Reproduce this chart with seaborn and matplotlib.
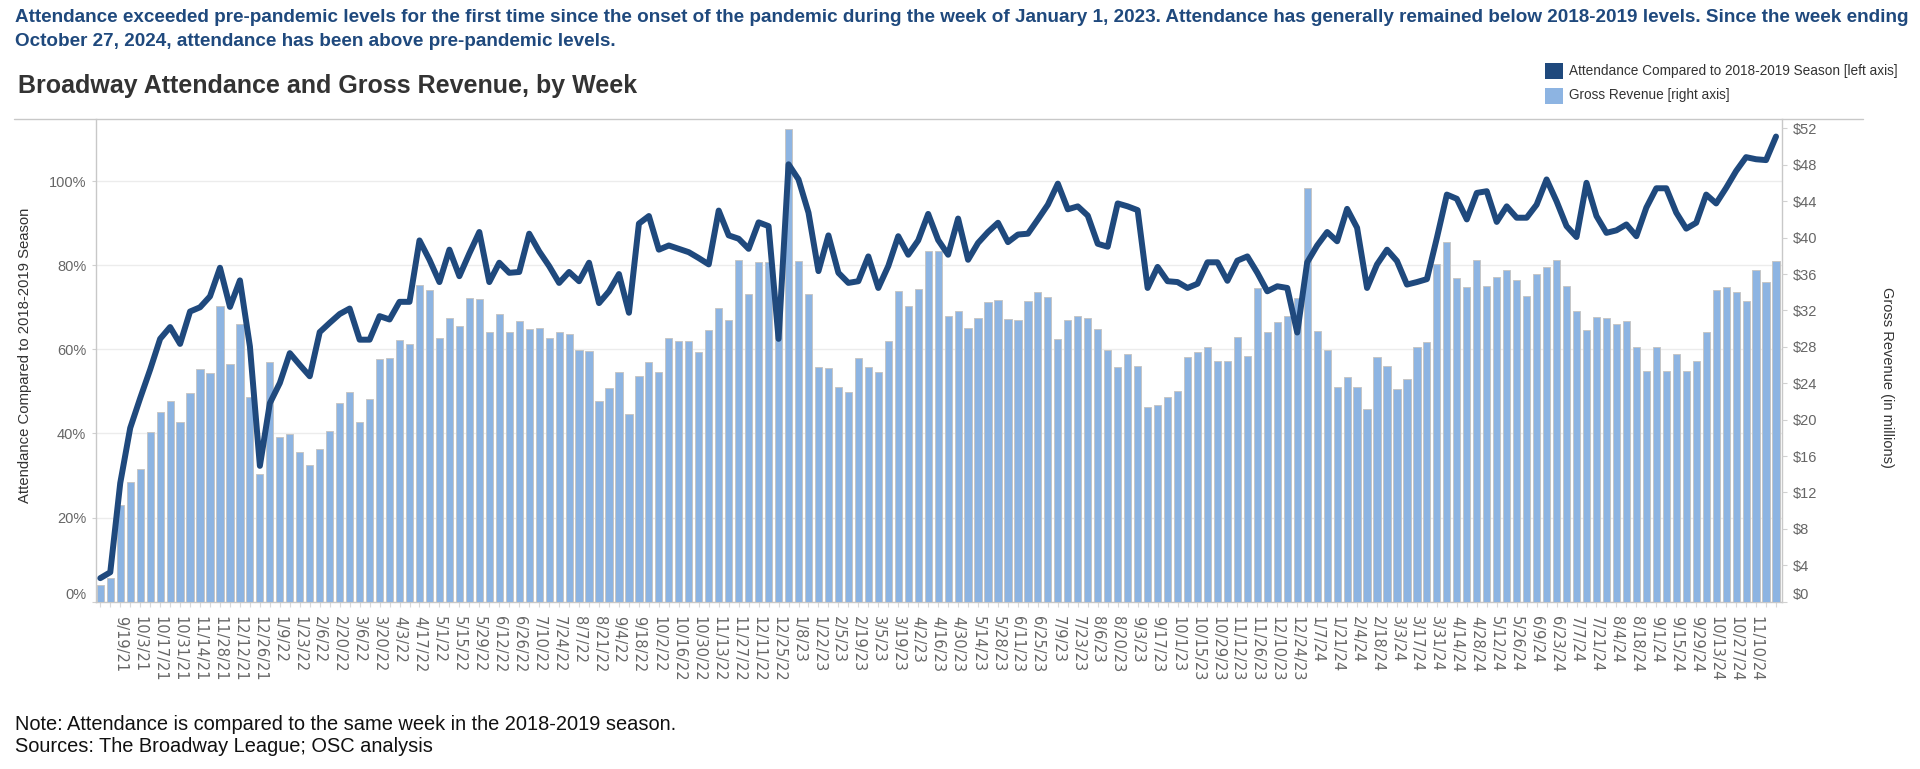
import numpy as np
import pandas as pd
import matplotlib
matplotlib.use("Agg")
import matplotlib.pyplot as plt
import seaborn as sns
from matplotlib.lines import Line2D
from matplotlib.patches import Rectangle

# weekly Broadway data, week ending 9/5/21 through 11/24/24
first_week = "2021-09-05"

# gross revenue, $ millions
revenue = [
    1.8, 2.6, 10.6, 13.1, 14.6, 18.6, 20.8, 22.1, 19.7, 22.9, 25.6, 25.1, 32.5, 26.1, 30.5,
    22.5, 14.0, 26.3, 18.1, 18.4, 16.4, 15.0, 16.8, 18.8, 21.8, 23.0, 19.7, 22.3, 26.7, 26.8,
    28.7, 28.3, 34.8, 34.2, 29.0, 31.2, 30.3, 33.4, 33.3, 29.6, 31.6, 29.6, 30.8,
    30.0, 30.1, 29.0, 29.6, 29.4, 27.6, 27.5, 22.1, 23.5, 25.2, 20.6, 24.8, 26.3, 25.2, 29.0,
    28.6, 28.6, 27.4, 29.8, 32.3, 30.9, 37.5, 33.8, 37.3, 37.3, 33.0, 51.9, 37.4, 33.8, 25.8,
    25.7, 23.6, 23.0, 26.8, 25.8, 25.2, 28.6, 34.1, 32.5, 34.4, 38.5, 38.5,
    31.4, 31.9, 30.1, 31.2, 32.9, 33.1, 31.1, 30.9, 33.0, 34.0, 33.5, 28.9, 30.9, 31.4, 31.2,
    30.0, 27.6, 25.8, 27.2, 25.9, 21.4, 21.6, 22.5, 23.1, 26.9, 27.4, 28.0, 26.4, 26.5, 29.1,
    27.0, 34.5, 29.6, 30.7, 31.4, 33.4, 45.5, 29.7, 27.6, 23.6, 24.7, 23.6,
    21.2, 26.9, 25.9, 23.4, 24.5, 28.0, 28.5, 37.1, 39.5, 35.6, 34.6, 37.5, 34.7, 35.7, 36.4,
    35.3, 33.6, 36.0, 36.8, 37.5, 34.7, 31.9, 29.8, 31.3, 31.2, 30.5, 30.8, 28.0, 25.3, 28.0,
    25.4, 27.2, 25.3, 26.4, 29.6, 34.2, 34.6, 34.0, 33.0, 36.4, 35.1, 37.4,
]

# attendance as % of same week in 2018-2019 season
attendance = [
    5.6, 7.0, 28.2, 41.3, 48.4, 55.2, 62.5, 65.3, 61.3, 69.0, 70.0, 72.6, 79.4, 70.1, 76.4,
    60.7, 32.3, 47.2, 52.0, 59.1, 56.3, 53.6, 64.1, 66.3, 68.4, 69.7, 62.3, 62.3, 67.9, 67.1,
    71.3, 71.3, 85.9, 81.3, 76.0, 83.7, 77.4, 82.8, 87.9, 76.0, 80.6, 78.2, 78.4,
    87.5, 83.3, 79.8, 75.8, 78.4, 76.2, 80.6, 71.0, 73.8, 77.9, 68.7, 89.9, 91.7, 83.7, 84.7,
    83.9, 83.1, 81.7, 80.2, 93.0, 87.1, 86.3, 83.9, 90.2, 89.3, 62.5, 104.0, 100.4, 92.5, 78.6,
    87.1, 78.2, 75.8, 76.2, 82.1, 74.6, 79.8, 86.9, 82.5, 85.9, 92.2, 86.0,
    82.5, 91.1, 81.3, 85.3, 87.9, 90.1, 85.5, 87.3, 87.5, 90.9, 94.4, 99.4, 93.3, 94.0, 91.8,
    85.1, 84.4, 94.7, 94.0, 93.1, 74.6, 79.6, 76.2, 76.0, 74.6, 75.6, 80.7, 80.7, 76.3, 81.1,
    82.1, 78.2, 73.8, 75.0, 74.6, 64.0, 80.7, 84.7, 87.9, 85.7, 93.4, 88.9,
    74.6, 80.2, 83.7, 81.0, 75.4, 76.0, 76.7, 86.5, 96.8, 95.8, 90.9, 97.2, 97.6, 90.3, 94.0,
    91.3, 91.3, 94.4, 100.4, 95.2, 89.3, 86.7, 99.6, 91.7, 87.7, 88.3, 89.7, 86.9, 93.7, 98.3,
    98.3, 92.5, 88.7, 90.1, 96.8, 94.7, 98.4, 102.4, 105.7, 105.2, 105.0, 110.6,
]

pct_ticks = [0, 20, 40, 60, 80, 100]
usd_ticks = list(range(0, 53, 4))

subtitle = [
    "Attendance exceeded pre-pandemic levels for the first time since the onset of the pandemic "
    "during the week of January 1, 2023. Attendance has generally remained below 2018-2019 levels. "
    "Since the week ending",
    "October 27, 2024, attendance has been above pre-pandemic levels.",
]
title = "Broadway Attendance and Gross Revenue, by Week"
legend_labels = ["Attendance Compared to 2018-2019 Season [left axis]", "Gross Revenue [right axis]"]
notes = [
    "Note: Attendance is compared to the same week in the 2018-2019 season.",
    "Sources: The Broadway League; OSC analysis",
]

DARK = "#1F497D"
LIGHT = "#8DB4E2"
EDGE = "#c6c6c6"
TICK = "#666666"
W, H = 1920, 769


def fx(px):
    return px / W


def fy(py):
    return (H - py) / H


def main():
    df = pd.DataFrame({"week": np.arange(len(revenue)), "revenue": revenue, "attendance": attendance})
    dates = pd.date_range(first_week, periods=len(df), freq="7D")
    # every other week is labelled, 9/19/21 through 11/10/24
    xlabels = [f"{d.month}/{d.day}/{d:%y}" if (i % 2 == 0 and 2 <= i <= 166) else ""
               for i, d in enumerate(dates)]

    sns.set_theme(style="white")
    plt.rcParams["font.family"] = ["Liberation Sans", "DejaVu Sans"]

    fig = plt.figure(figsize=(19.2, 7.69), dpi=100)
    ax = fig.add_axes([fx(96), fy(601.7), fx(1782) - fx(96), fy(119.3) - fy(601.7)])
    axr = ax.twinx()
    axl = ax.twinx()

    # revenue bars on the right axis
    sns.barplot(data=df, x="week", y="revenue", ax=axr, color=LIGHT, saturation=1,
                width=0.72, edgecolor=EDGE, linewidth=0.7, errorbar=None)
    # attendance line on top
    sns.lineplot(data=df, x="week", y="attendance", ax=axl, color=DARK, linewidth=4.3,
                 solid_capstyle="round", solid_joinstyle="round")

    xmin, xmax = -0.43, 168.6
    for a in (ax, axr, axl):
        a.set_xlim(xmin, xmax)
        a.set_xlabel("")
        a.set_ylabel("")

    ax.set_ylim(0, 114.7)
    axl.set_ylim(0, 114.7)
    axr.set_ylim(0, 53.0)

    ax.set_yticks(pct_ticks, [f"{v}%" for v in pct_ticks])
    ax.grid(axis="y", color="#ececec", linewidth=1)
    ax.grid(axis="x", visible=False)
    ax.tick_params(axis="y", left=True, length=3, width=0.8, color="#d0d0d0",
                   labelcolor=TICK, labelsize=10.5, pad=4)
    ax.set_xticks(df["week"], xlabels)
    ax.tick_params(axis="x", bottom=True, length=3.6, width=0.8, color="#d8d8d8",
                   labelcolor=TICK, labelsize=10.5, pad=7, labelrotation=270)
    for lab in ax.get_xticklabels():
        lab.set_fontfamily("DejaVu Sans")

    axr.set_yticks(usd_ticks, [f"${v}" for v in usd_ticks])
    axr.tick_params(axis="y", right=True, length=3.6, width=0.8, color="#d0d0d0",
                    labelcolor=TICK, labelsize=10.5, pad=4)
    axl.set_yticks([])

    ax.get_yticklabels()[0].set_verticalalignment("bottom")
    axr.get_yticklabels()[0].set_verticalalignment("bottom")

    for name, sp in ax.spines.items():
        sp.set_color("#c8c8c8")
        sp.set_linewidth(1)
        sp.set_visible(name != "top")
    for a in (axr, axl):
        for sp in a.spines.values():
            sp.set_visible(False)

    # top border spanning the whole chart block
    fig.add_artist(Line2D([fx(14), fx(1863)], [fy(119.3), fy(119.3)], transform=fig.transFigure,
                          color="#c8c8c8", linewidth=1))

    fig.text(fx(25), fy(355), "Attendance Compared to 2018-2019 Season", rotation=90,
             ha="center", va="center", fontsize=10.7, color="#333333")
    fig.text(fx(1887), fy(377), "Gross Revenue (in millions)", rotation=270,
             ha="center", va="center", fontsize=10.5, color="#333333")

    fig.text(fx(15), fy(18), subtitle[0], fontsize=13.6, fontweight="bold", color=DARK, va="center")
    fig.text(fx(15), fy(42), subtitle[1], fontsize=13.6, fontweight="bold", color=DARK, va="center")
    fig.text(fx(18), fy(86), title, fontsize=18, fontweight="bold", color="#333333", va="center")

    for yc, col, lab in zip([71, 95.5], [DARK, LIGHT], legend_labels):
        fig.add_artist(Rectangle((fx(1545), fy(yc + 8)), fx(18), fy(yc - 8) - fy(yc + 8),
                                 transform=fig.transFigure, facecolor=col, edgecolor="none"))
        fig.text(fx(1569), fy(yc), lab, fontsize=9.8, color="#333333", va="center")

    fig.text(fx(15), fy(724), notes[0], fontsize=14.4, color="#111111", va="center")
    fig.text(fx(15), fy(747), notes[1], fontsize=14.4, color="#111111", va="center")

    fig.savefig("out.png", dpi=100)


if __name__ == "__main__":
    main()
